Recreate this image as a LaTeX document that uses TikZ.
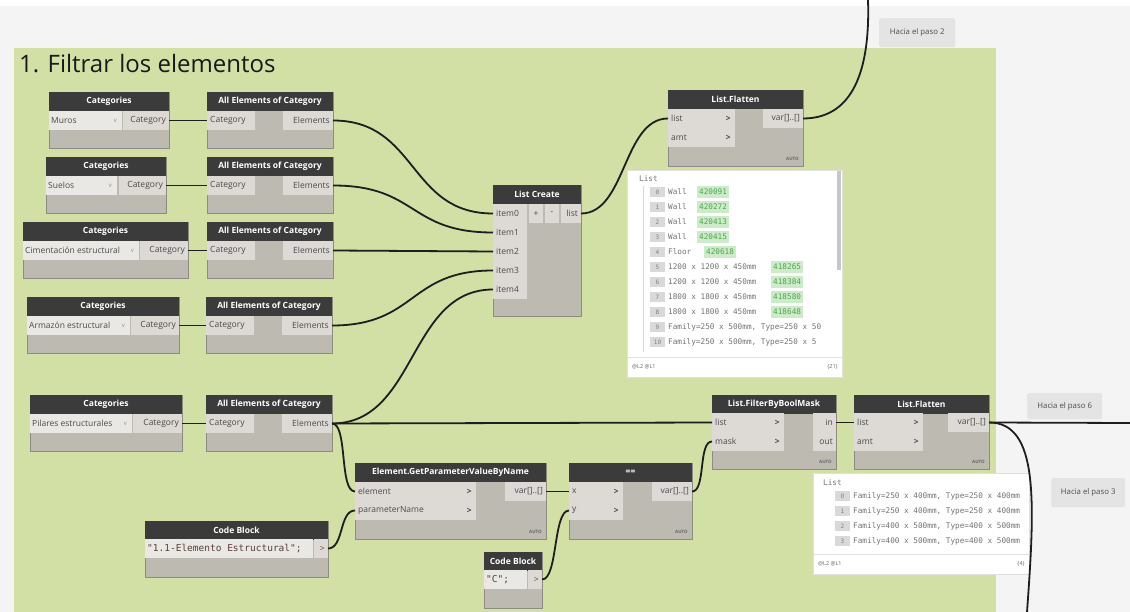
\documentclass[tikz,border=0pt]{standalone}
\usepackage{fontspec}
\setmainfont{Open Sans}
\setmonofont{DejaVu Sans Mono}
\definecolor{bgc}{HTML}{F4F4F4}
\definecolor{greenbg}{HTML}{D2DFA5}
\definecolor{hdrc}{HTML}{3B3B3B}
\definecolor{bodyc}{HTML}{BDBAB2}
\definecolor{portc}{HTML}{DDDAD5}
\definecolor{dropc}{HTML}{EAE8E5}
\definecolor{bordc}{HTML}{8E8B83}
\definecolor{txtc}{HTML}{4A4A4A}
\definecolor{wirec}{HTML}{1E1E1E}
\definecolor{idxc}{HTML}{D9D9D9}
\definecolor{gboxc}{HTML}{CDEBC9}
\definecolor{gtxtc}{HTML}{4CA64C}
\definecolor{hacc}{HTML}{E4E4E4}
\definecolor{codec}{HTML}{5A3E36}
\tikzset{
  dbody/.style={fill=bodyc, draw=bordc, line width=0.6pt, inner sep=0pt, outer sep=0pt},
  dhead/.style={fill=hdrc, text=white, font=\bfseries\fontsize{8.5}{10}\selectfont, inner sep=0pt, outer sep=0pt, minimum height=19},
  pbox/.style={fill=portc, inner sep=0pt, outer sep=0pt, minimum height=19},
  dbox/.style={fill=dropc, inner sep=0pt, outer sep=0pt, minimum height=19},
  ptxt/.style={font=\fontsize{8.5}{10}\selectfont, text=txtc, inner sep=0pt},
  ctxt/.style={font=\ttfamily\fontsize{9.5}{11}\selectfont, text=codec, inner sep=0pt},
  autot/.style={font=\bfseries\fontsize{4.5}{5}\selectfont, text=gray!80!black, inner sep=0pt},
  wire/.style={draw=wirec, line width=1.8pt},
  prev/.style={fill=white, draw=black!12, line width=0.5pt},
  mtx/.style={font=\ttfamily\fontsize{7.7}{9}\selectfont, text=black!55, inner sep=0pt},
  idx/.style={fill=idxc, minimum width=15, minimum height=10, inner sep=0pt, font=\ttfamily\fontsize{6}{7}\selectfont, text=black!50},
  gid/.style={fill=gboxc, minimum height=12, inner sep=2pt, font=\ttfamily\fontsize{7.7}{9}\selectfont, text=gtxtc},
  foot/.style={font=\fontsize{5.5}{6}\selectfont, text=black!60, inner sep=0pt},
  hacia/.style={fill=hacc, rounded corners=2pt, inner sep=0pt, font=\fontsize{7.8}{9}\selectfont, text=black!70},
}
\newcommand\dnode[6]{%
  \node[dbody, minimum width=#4, minimum height=#5, anchor=north west] (#1) at (#2,#3) {};
  \node[dhead, minimum width=#4, anchor=north west] (#1-h) at (#2,#3) {#6};}
\newcommand\inport[5]{%
  \node[pbox, minimum width=#4, anchor=north west] (#1) at (#2,#3) {};
  \node[ptxt, anchor=west] at ([xshift=3pt]#1.west) {#5};}
\newcommand\inportc[5]{%
  \inport{#1}{#2}{#3}{#4}{#5}%
  \node[ptxt, anchor=east] at ([xshift=-4pt]#1.east) {\textbf{>}};}
\newcommand\outport[5]{%
  \node[pbox, minimum width=#4, anchor=north east] (#1) at (#2,#3) {};
  \node[ptxt, anchor=east] at ([xshift=-3pt]#1.east) {#5};}
\newcommand\dropd[5]{%
  \node[dbox, minimum width=#4, anchor=north west] (#1) at (#2,#3) {};
  \node[ptxt, anchor=west] at ([xshift=2pt]#1.west) {#5};
  \node[ptxt, text=black!45, font=\fontsize{6}{7}\selectfont, anchor=east] at ([xshift=-5pt]#1.east) {v};}
\newcommand\autolbl[1]{\node[autot, anchor=south east] at ([xshift=-4pt,yshift=5pt]#1.south east) {AUTO};}
\begin{document}
\begin{tikzpicture}[x=1pt,y=-1pt]
\useasboundingbox (0,0) rectangle (1130,612);
\fill[bgc] (0,0) rectangle (1130,612);
\fill[white] (0,0) rectangle (1130,6);
\fill[greenbg] (14,48) rectangle (996,612);
\node[anchor=base west, inner sep=0pt, font=\fontsize{24}{28}\selectfont, text=black!90] (title) at (19,73) {1. Filtrar los elementos};

% ---------- Categories nodes ----------
\dnode{c1}{49}{92}{120}{56}{Categories}
\dropd{c1d}{49}{111}{73}{Muros}
\outport{c1o}{169}{111}{46}{Category}
\dnode{c2}{46}{157}{120}{56}{Categories}
\dropd{c2d}{46}{176}{71}{Suelos}
\outport{c2o}{166}{176}{47}{Category}
\dnode{c3}{23}{222}{165}{56}{Categories}
\dropd{c3d}{23}{241}{116}{Cimentación estructural}
\outport{c3o}{188}{241}{48}{Category}
\dnode{c4}{27}{297}{152}{56}{Categories}
\dropd{c4d}{27}{316}{103}{Armazón estructural}
\outport{c4o}{179}{316}{48}{Category}
\dnode{c5}{30}{395}{152}{56}{Categories}
\dropd{c5d}{30}{414}{102}{Pilares estructurales}
\outport{c5o}{182}{414}{49}{Category}

% ---------- All Elements of Category ----------
\dnode{a1}{207}{92}{126}{56}{All Elements of Category}
\inport{a1i}{207}{111}{48}{Category}
\outport{a1o}{333}{111}{50}{Elements}
\dnode{a2}{207}{157}{126}{56}{All Elements of Category}
\inport{a2i}{207}{176}{48}{Category}
\outport{a2o}{333}{176}{50}{Elements}
\dnode{a3}{207}{222}{126}{56}{All Elements of Category}
\inport{a3i}{207}{241}{48}{Category}
\outport{a3o}{333}{241}{50}{Elements}
\dnode{a4}{206}{297}{126}{56}{All Elements of Category}
\inport{a4i}{206}{316}{48}{Category}
\outport{a4o}{332}{316}{50}{Elements}
\dnode{a5}{206}{395}{126}{56}{All Elements of Category}
\inport{a5i}{206}{414}{48}{Category}
\outport{a5o}{332}{414}{50}{Elements}

% ---------- List Create ----------
\dnode{lc}{493}{185}{88}{131}{List Create}
\inport{lci0}{493}{204}{34}{item0}
\node[pbox, minimum width=14, anchor=north west] (lcp) at (529,204) {};
\node[ptxt] at (lcp) {+};
\node[pbox, minimum width=14, anchor=north west] (lcm) at (545,204) {};
\node[ptxt] at (lcm) {-};
\outport{lco}{581}{204}{20}{list}
\inport{lci1}{493}{223}{34}{item1}
\inport{lci2}{493}{242}{34}{item2}
\inport{lci3}{493}{261}{34}{item3}
\inport{lci4}{493}{280}{34}{item4}

% ---------- List.Flatten 1 ----------
\dnode{lf1}{668}{90}{135}{76}{List.Flatten}
\inportc{lf1l}{668}{109}{67}{list}
\inportc{lf1a}{668}{128}{67}{amt}
\outport{lf1o}{803}{109}{40}{var[]..[]}
\autolbl{lf1}

% ---------- Preview 1 ----------
\node[prev, minimum width=215, minimum height=207, inner sep=0pt, outer sep=0pt, anchor=north west] (pv1) at (627,170) {};
\fill[black!22] (837,171) rectangle (841,270);
\draw[black!15, line width=0.5pt] (643,186) -- (643,352);
\draw[black!12, line width=0.5pt] (627,357) -- (842,357);
\node[mtx, anchor=west] at (639,179) {List};
\foreach \i/\t/\gx/\id in {0/Wall/697/420091,1/Wall/697/420272,2/Wall/697/420413,3/Wall/697/420415,4/Floor/704/420618,5/1200 x 1200 x 450mm/771/418265,6/1200 x 1200 x 450mm/771/418384,7/1800 x 1800 x 450mm/771/418580,8/1800 x 1800 x 450mm/771/418648}{
  \node[idx] at (657.5,{192+15*\i}) {\i};
  \node[mtx, anchor=west] at (668,{192+15*\i}) {\t};
  \node[gid, anchor=west] at (\gx,{192+15*\i}) {\id};
}
\node[idx] at (657.5,327) {9};
\node[mtx, anchor=west] at (668,327) {Family=250 x 500mm, Type=250 x 50};
\node[idx] at (657.5,342) {10};
\node[mtx, anchor=west] at (668,342) {Family=250 x 500mm, Type=250 x 5};
\node[foot, anchor=west] at (632,367) {@L2 @L1};
\node[foot, anchor=east] at (838,367) {\{21\}};

% ---------- Code Block 1 ----------
\dnode{cb1}{145}{521}{183}{56}{Code Block}
\node[dbox, minimum width=168, anchor=north west] (cb1t) at (145,539) {};
\node[ctxt, anchor=west] at ([xshift=2pt]cb1t.west) {"1.1-Elemento Estructural";};
\outport{cb1o}{328}{539}{14}{>}

% ---------- GetParameterValueByName ----------
\dnode{gp}{355}{463}{191}{76}{Element.GetParameterValueByName}
\inportc{gpe}{355}{482}{121}{element}
\inportc{gpn}{355}{501}{121}{parameterName}
\outport{gpo}{546}{482}{41}{var[]..[]}
\autolbl{gp}

% ---------- == ----------
\dnode{eq}{569}{463}{123}{76}{==}
\inportc{eqx}{569}{482}{54}{x}
\inportc{eqy}{569}{501}{54}{y}
\outport{eqo}{692}{482}{40}{var[]..[]}
\autolbl{eq}

% ---------- Code Block 2 ----------
\dnode{cb2}{484}{552}{58}{56}{Code Block}
\node[dbox, minimum width=43, anchor=north west] (cb2t) at (484,570) {};
\node[ctxt, anchor=west] at ([xshift=2pt]cb2t.west) {"C";};
\outport{cb2o}{542}{570}{14}{>}

% ---------- List.FilterByBoolMask ----------
\dnode{fb}{712}{395}{124}{74}{List.FilterByBoolMask}
\inportc{fbl}{712}{413}{72}{list}
\inportc{fbm}{712}{432}{72}{mask}
\outport{fbin}{836}{413}{23}{in}
\outport{fbout}{836}{432}{23}{out}
\autolbl{fb}

% ---------- List.Flatten 2 ----------
\dnode{lf2}{854}{395}{135}{74}{List.Flatten}
\inportc{lf2l}{854}{413}{69}{list}
\inportc{lf2a}{854}{432}{69}{amt}
\outport{lf2o}{989}{413}{41}{var[]..[]}
\autolbl{lf2}

% ---------- Preview 2 ----------
\node[prev, minimum width=216, minimum height=101, inner sep=0pt, outer sep=0pt, anchor=north west] (pv2) at (813,473) {};
\draw[black!12, line width=0.5pt] (813,554) -- (1029,554);
\node[mtx, anchor=west] at (823,483) {List};
\node[idx] at (842.5,496) {0};
\node[mtx, anchor=west] at (853,496) {Family=250 x 400mm, Type=250 x 400mm};
\node[idx] at (842.5,511) {1};
\node[mtx, anchor=west] at (853,511) {Family=250 x 400mm, Type=250 x 400mm};
\node[idx] at (842.5,526) {2};
\node[mtx, anchor=west] at (853,526) {Family=400 x 500mm, Type=400 x 500mm};
\node[idx] at (842.5,541) {3};
\node[mtx, anchor=west] at (853,541) {Family=400 x 500mm, Type=400 x 500mm};
\node[foot, anchor=west] at (818,564) {@L2 @L1};
\node[foot, anchor=east] at (1025,564) {\{4\}};

% ---------- Hacia notes ----------
\node[hacia, minimum width=76, minimum height=29, anchor=north west] (h2) at (879,18) {Hacia el paso 2};
\node[hacia, minimum width=75, minimum height=26, anchor=north west] (h6) at (1027,393) {Hacia el paso 6};
\node[hacia, minimum width=74, minimum height=29, anchor=north west] (h3) at (1051,478) {Hacia el paso 3};

% ---------- free ends ----------
\coordinate (topend) at (868,0);
\coordinate (rightend) at (1130,423);
\coordinate (botend) at (1027,612);

% ---------- wires ----------
\draw[wire] (c1o.east) -- (a1i.west);
\draw[wire] (c2o.east) -- (a2i.west);
\draw[wire] (c3o.east) -- (a3i.west);
\draw[wire] (c4o.east) -- (a4i.west);
\draw[wire] (c5o.east) -- (a5i.west);
\draw[wire] (a1o.east) .. controls +(85,0) and +(-85,0) .. (lci0.west);
\draw[wire] (a2o.east) .. controls +(85,0) and +(-85,0) .. (lci1.west);
\draw[wire] (a3o.east) -- (lci2.west);
\draw[wire] (a4o.east) .. controls +(85,0) and +(-85,0) .. (lci3.west);
\draw[wire] (a5o.east) .. controls +(85,0) and +(-85,0) .. (lci4.west);
\draw[wire] (lco.east) .. controls +(45,0) and +(-45,0) .. (lf1l.west);
\draw[wire] (lf1o.east) .. controls +(55,0) and +(2,60) .. (topend);
\draw[wire] (a5o.east) -- (fbl.west);
\draw[wire] (a5o.east) .. controls +(16,0) and +(-16,0) .. (gpe.west);
\draw[wire] (cb1o.east) .. controls +(16,0) and +(-16,0) .. (gpn.west);
\draw[wire] (gpo.east) -- (eqx.west);
\draw[wire] (cb2o.east) .. controls +(16,0) and +(-16,0) .. (eqy.west);
\draw[wire] (eqo.east) .. controls +(14,0) and +(-14,0) .. (fbm.west);
\draw[wire] (fbin.east) -- (lf2l.west);
\draw[wire] (lf2o.east) -- (rightend);
\draw[wire] (lf2o.east) .. controls +(50,0) and +(8,-110) .. (botend);
\end{tikzpicture}
\end{document}
